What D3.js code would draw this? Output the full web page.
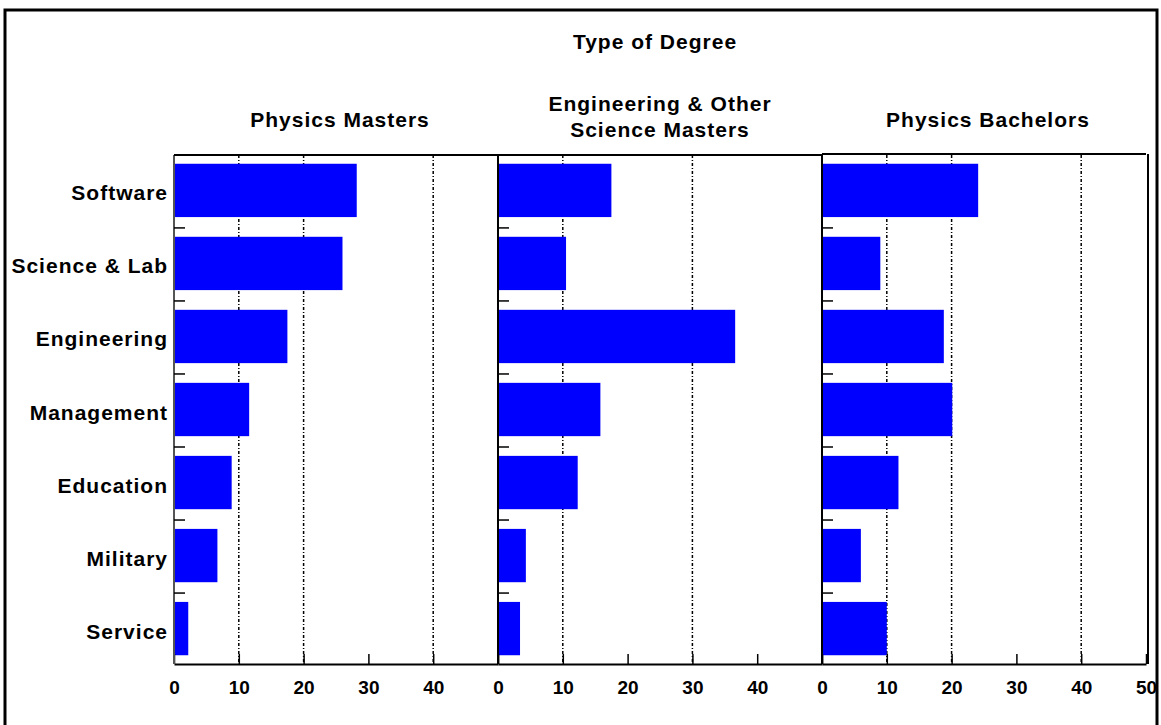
<!DOCTYPE html>
<html>
<head>
<meta charset="utf-8">
<script src="https://cdn.jsdelivr.net/npm/d3@7"></script>
<style>
  body { margin: 0; background: #fff; }
  text { font-family: "Liberation Sans", Arial, sans-serif; font-weight: bold; fill: #000; }
</style>
</head>
<body>
<div id="chart"></div>
<script>
// categories, top to bottom
const categories = ["Software", "Science & Lab", "Engineering", "Management", "Education", "Military", "Service"];

// percent of each degree type going into each sector
const physicsMasters = [28.2, 26.0, 17.5, 11.6, 8.9, 6.7, 2.2];
const engOtherMasters = [17.5, 10.5, 36.6, 15.8, 12.3, 4.3, 3.4];
const physicsBachelors = [24.1, 9.0, 18.8, 20.1, 11.8, 6.0, 10.0];

const panelTitles = [["Physics Masters"], ["Engineering & Other", "Science Masters"], ["Physics Bachelors"]];
const tickLabels = [[0, 10, 20, 30, 40], [0, 10, 20, 30, 40], [0, 10, 20, 30, 40, 50]];
const gridValues = [[10, 20, 40], [10, 30], [10, 20, 40]];

const W = 1161, H = 725;
const plotLeft = 174, plotTop = 155, panelW = 324, plotH = 509;

const svg = d3.select("#chart").append("svg")
  .attr("width", W)
  .attr("height", H);

// outer frame
svg.append("rect")
  .attr("x", 5).attr("y", 10)
  .attr("width", 1152).attr("height", 740)
  .attr("fill", "none")
  .attr("stroke", "#000")
  .attr("stroke-width", 3);

svg.append("text")
  .attr("x", 655).attr("y", 49)
  .attr("text-anchor", "middle")
  .style("font-size", "21px")
  .style("letter-spacing", "1px")
  .text("Type of Degree");

const y = d3.scaleBand()
  .domain(categories)
  .range([plotTop, plotTop + plotH])
  .paddingInner(0.27)
  .paddingOuter(0.12)
  .align(0.5);

const series = [physicsMasters, engOtherMasters, physicsBachelors];

series.forEach((vals, p) => {
  const x0 = plotLeft + p * panelW;
  const x = d3.scaleLinear().domain([0, 50]).range([x0, x0 + panelW]);
  const g = svg.append("g");

  // panel title
  const tt = g.append("text")
    .attr("text-anchor", "middle")
    .style("font-size", "21px")
    .style("letter-spacing", "1px");
  const lines = panelTitles[p];
  lines.forEach((l, i) => {
    tt.append("tspan")
      .attr("x", x(25) + (lines.length > 1 ? 0 : 4))
      .attr("y", lines.length > 1 ? 111 + i * 26 : 127)
      .text(l);
  });

  // dashed gridlines
  g.selectAll(".grid")
    .data(gridValues[p])
    .join("line")
      .attr("x1", d => x(d)).attr("x2", d => x(d))
      .attr("y1", plotTop).attr("y2", plotTop + plotH)
      .attr("stroke", "#000")
      .attr("stroke-width", 1.5)
      .attr("stroke-dasharray", "3,2,1,2");

  // bars
  g.selectAll(".bar")
    .data(vals)
    .join("rect")
      .attr("x", x(0))
      .attr("y", (d, i) => y(categories[i]))
      .attr("width", d => x(d) - x(0))
      .attr("height", y.bandwidth())
      .attr("fill", "#0000ff");

  // bottom axis
  const ax = g.append("g")
    .attr("transform", `translate(0,${plotTop + plotH})`)
    .call(d3.axisBottom(x)
      .tickValues(tickLabels[p].concat(p < 2 ? [50] : []))
      .tickSizeInner(-10)
      .tickSizeOuter(0)
      .tickPadding(17)
      .tickFormat(d => tickLabels[p].includes(d) ? d : ""));
  ax.select(".domain").attr("stroke", "#000").attr("stroke-width", 2);
  ax.selectAll(".tick line").attr("stroke", "#000").attr("stroke-width", 1.5);
  ax.selectAll("text")
    .style("font-size", "19px")
    .style("font-family", "'Liberation Sans', Arial, sans-serif")
    .style("font-weight", "bold");

  // left axis with ticks between categories
  g.append("line")
    .attr("x1", x(0)).attr("x2", x(0))
    .attr("y1", plotTop).attr("y2", plotTop + plotH)
    .attr("stroke", p === 0 ? "#555" : "#000")
    .attr("stroke-width", 2);
  g.selectAll(".sep")
    .data(categories.slice(1))
    .join("line")
      .attr("x1", x(0)).attr("x2", x(0) + 11)
      .attr("y1", d => y(d) - y.step() * y.paddingInner() * 0.45)
      .attr("y2", d => y(d) - y.step() * y.paddingInner() * 0.45)
      .attr("stroke", "#000")
      .attr("stroke-width", 1.5);

  // top line
  g.append("line")
    .attr("x1", x(0)).attr("x2", x(50))
    .attr("y1", p === 2 ? plotTop - 1 : plotTop).attr("y2", p === 2 ? plotTop - 1 : plotTop)
    .attr("stroke", "#000")
    .attr("stroke-width", 2);

  if (p === 2) {
    g.append("line")
      .attr("x1", x(50) + 2).attr("x2", x(50) + 2)
      .attr("y1", plotTop - 1).attr("y2", plotTop + plotH)
      .attr("stroke", "#000")
      .attr("stroke-width", 2);
  }
});

// category labels
svg.selectAll(".cat")
  .data(categories)
  .join("text")
    .attr("x", 168)
    .attr("y", d => y(d) + y.bandwidth() / 2 + 10)
    .attr("text-anchor", "end")
    .style("font-size", "21px")
    .style("letter-spacing", "1px")
    .text(d => d);
</script>
</body>
</html>
